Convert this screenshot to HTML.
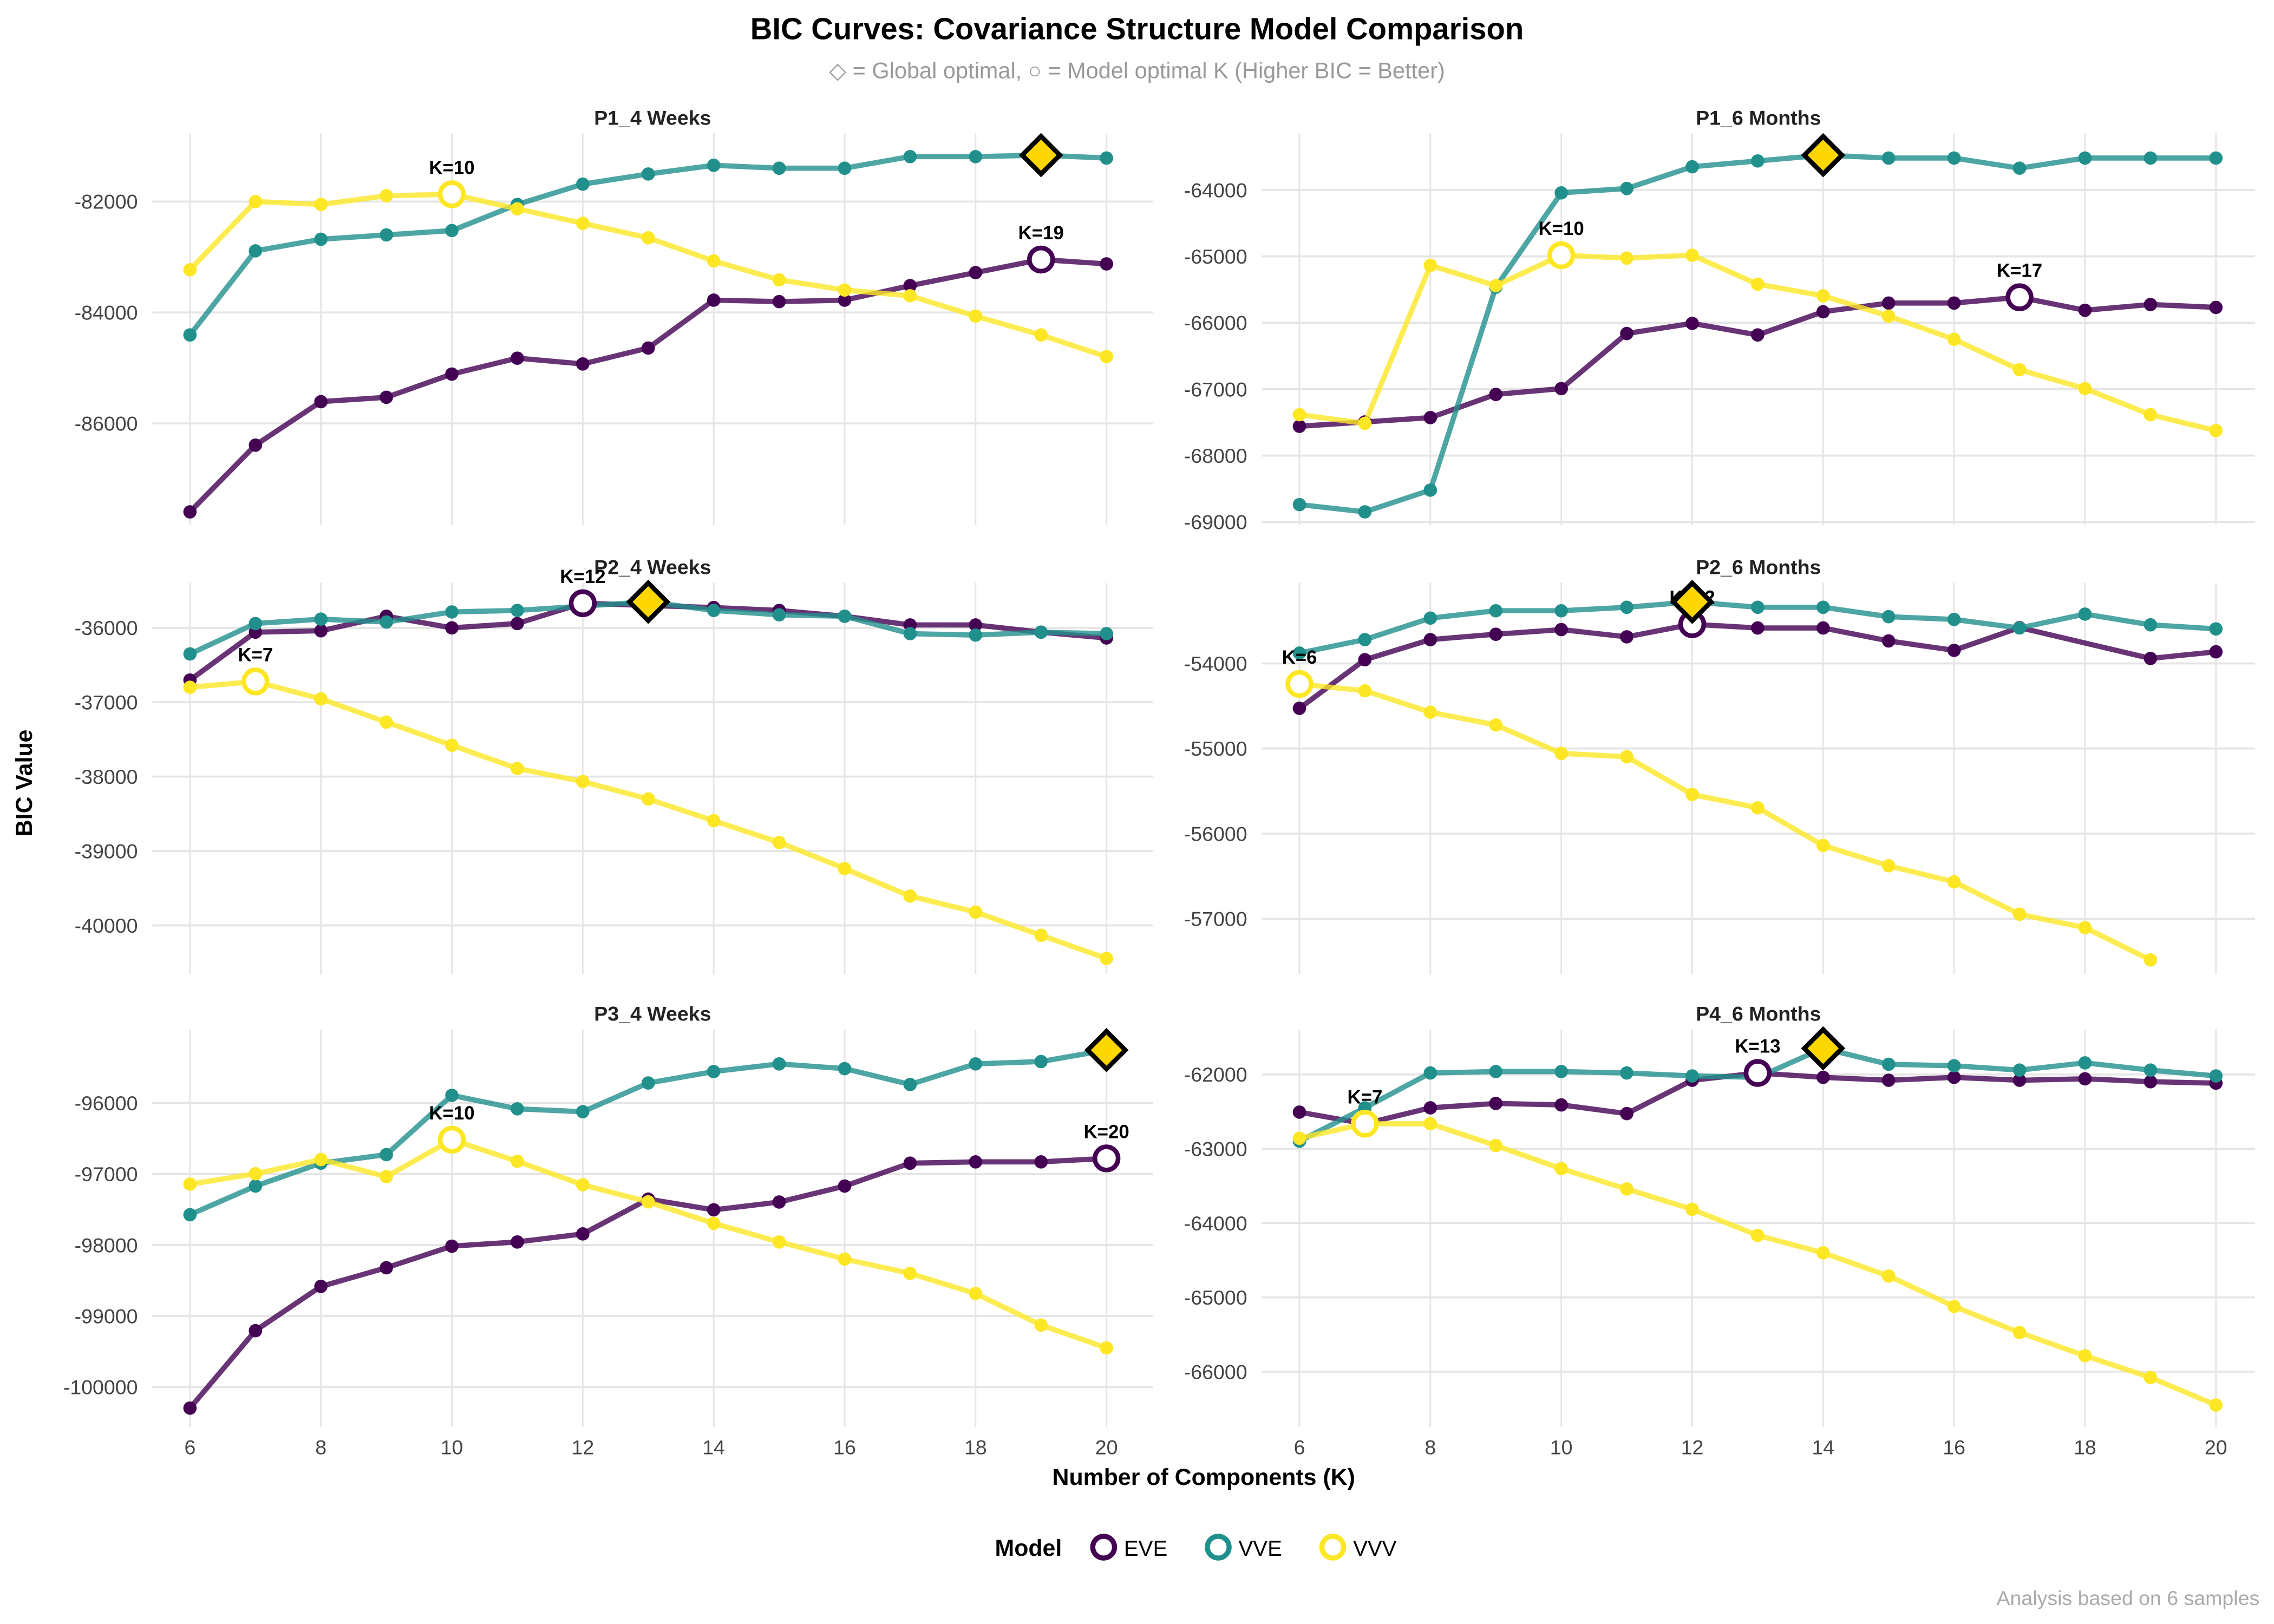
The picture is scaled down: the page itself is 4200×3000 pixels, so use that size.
<!DOCTYPE html>
<html><head><meta charset="utf-8"><title>BIC Curves</title>
<style>
html,body{margin:0;padding:0;background:#fff;}
svg{display:block;font-family:"Liberation Sans",Arial,sans-serif;}
</style></head>
<body>
<svg id="chart" width="4200" height="3000" viewBox="0 0 1568 1120" xmlns="http://www.w3.org/2000/svg">
<rect width="1568" height="1120" fill="#fff"/>
<text x="784" y="27" text-anchor="middle" font-size="21" font-weight="bold" fill="#000">BIC Curves: Covariance Structure Model Comparison</text>
<text x="784" y="54" text-anchor="middle" font-size="15.5" fill="#999">◇ = Global optimal, ○ = Model optimal K (Higher BIC = Better)</text>
<text transform="translate(22,540) rotate(-90)" text-anchor="middle" font-size="16" font-weight="bold" fill="#000">BIC Value</text>
<text x="830" y="1024" text-anchor="middle" font-size="16" font-weight="bold" fill="#000">Number of Components (K)</text>
<g>
<text x="686" y="1073" font-size="16" font-weight="bold" fill="#000">Model</text>
<circle cx="761" cy="1067" r="7.5" fill="#fff" stroke="#440154" stroke-width="3.5"/>
<text x="775" y="1073" font-size="15" fill="#000">EVE</text>
<circle cx="840" cy="1067" r="7.5" fill="#fff" stroke="#21908C" stroke-width="3.5"/>
<text x="854" y="1073" font-size="15" fill="#000">VVE</text>
<circle cx="919" cy="1067" r="7.5" fill="#fff" stroke="#FDE725" stroke-width="3.5"/>
<text x="933" y="1073" font-size="15" fill="#000">VVV</text>
</g>
<text x="1558" y="1107" text-anchor="end" font-size="14" fill="#aaa">Analysis based on 6 samples</text>
<g id="panels"></g>
</svg>
<script>
const ks = [6,7,8,9,10,11,12,13,14,15,16,17,18,19,20];
const xTicks = [6,8,10,12,14,16,18,20];

const p1w_EVE = [-87595,-86392,-85608,-85529,-85111,-84824,-84928,-84641,-83778,-83804,-83778,-83516,-83281,-83046,-83124];
const p1w_VVE = [-84405,-82889,-82680,-82601,-82523,-82052,-81686,-81503,-81346,-81399,-81399,-81190,-81190,-81163,-81216];
const p1w_VVV = [-83229,-82000,-82052,-81895,-81869,-82131,-82392,-82654,-83072,-83412,-83595,-83699,-84065,-84405,-84797];
const p1w_ticks = [-86000,-84000,-82000];

const p1m_EVE = [-67559,-67493,-67428,-67079,-66991,-66162,-66009,-66183,-65834,-65703,-65703,-65616,-65812,-65725,-65769];
const p1m_VVE = [-68738,-68847,-68520,-65463,-64044,-63978,-63651,-63563,-63476,-63520,-63520,-63672,-63520,-63520,-63520];
const p1m_VVV = [-67384,-67515,-65135,-65441,-64983,-65026,-64983,-65419,-65594,-65900,-66249,-66707,-66991,-67384,-67624];
const p1m_ticks = [-69000,-68000,-67000,-66000,-65000,-64000];

const p2w_EVE = [-36702,-36058,-36039,-35844,-36000,-35942,-35669,-35700,-35727,-35766,-35844,-35961,-35961,-36058,-36136];
const p2w_VVE = [-36351,-35942,-35883,-35922,-35786,-35766,-35708,-35650,-35766,-35825,-35844,-36078,-36097,-36058,-36078];
const p2w_VVV = [-36799,-36721,-36955,-37267,-37579,-37891,-38066,-38300,-38593,-38885,-39236,-39606,-39821,-40133,-40444];
const p2w_ticks = [-40000,-39000,-38000,-37000,-36000];

const p2m_EVE = [-54528,-53957,-53721,-53658,-53603,-53688,-53540,-53584,-53584,-53736,-53847,-53580,null,-53942,-53864];
const p2m_VVE = [-53879,-53721,-53468,-53382,-53382,-53341,-53278,-53341,-53341,-53451,-53484,-53584,-53421,-53547,-53595];
const p2m_VVV = [-54242,-54322,-54574,-54724,-55058,-55097,-55540,-55697,-56140,-56378,-56567,-56947,-57106,-57484,null];
const p2m_ticks = [-57000,-56000,-55000,-54000];

const p3w_EVE = [-100296,-99206,-98582,-98320,-98016,-97957,-97843,-97353,-97504,-97394,-97169,-96847,-96829,-96829,-96780];
const p3w_VVE = [-97573,-97169,-96847,-96727,-95892,-96082,-96122,-95718,-95557,-95449,-95516,-95739,-95449,-95416,-95255];
const p3w_VVV = [-97143,-96996,-96796,-97037,-96516,-96820,-97151,-97392,-97694,-97957,-98198,-98400,-98682,-99127,-99449];
const p3w_ticks = [-100000,-99000,-98000,-97000,-96000];

const p4m_EVE = [-62507,-62663,-62449,-62390,-62410,-62527,-62078,-61980,-62039,-62078,-62039,-62078,-62059,-62098,-62117];
const p4m_VVE = [-62898,-62449,-61980,-61961,-61961,-61980,-62020,-62039,-61649,-61863,-61883,-61941,-61844,-61941,-62020];
const p4m_VVV = [-62859,-62663,-62663,-62956,-63268,-63541,-63815,-64166,-64400,-64712,-65122,-65473,-65785,-66078,-66449];
const p4m_ticks = [-66000,-65000,-64000,-63000,-62000];

const colors = {EVE:'#440154', VVE:'#21908C', VVV:'#FDE725'};

const panels = [
 {name:'P1_4 Weeks', x0:105,x1:795,y0:92,y1:362, kx6:131, v0:-82000,py0:139,v1:-86000,py1:292, s:{EVE:p1w_EVE,VVE:p1w_VVE,VVV:p1w_VVV}, ticks:p1w_ticks, xlabels:false},
 {name:'P1_6 Months', x0:870,x1:1555,y0:92,y1:362, kx6:896, v0:-64000,py0:131,v1:-69000,py1:360, s:{EVE:p1m_EVE,VVE:p1m_VVE,VVV:p1m_VVV}, ticks:p1m_ticks, xlabels:false},
 {name:'P2_4 Weeks', x0:105,x1:795,y0:402,y1:672, kx6:131, v0:-36000,py0:433,v1:-40000,py1:638.2, s:{EVE:p2w_EVE,VVE:p2w_VVE,VVV:p2w_VVV}, ticks:p2w_ticks, xlabels:false},
 {name:'P2_6 Months', x0:870,x1:1555,y0:402,y1:672, kx6:896, v0:-54000,py0:457.5,v1:-57000,py1:633.6, s:{EVE:p2m_EVE,VVE:p2m_VVE,VVV:p2m_VVV}, ticks:p2m_ticks, xlabels:false},
 {name:'P3_4 Weeks', x0:105,x1:795,y0:710,y1:984, kx6:131, v0:-96000,py0:760.7,v1:-100000,py1:956.6, s:{EVE:p3w_EVE,VVE:p3w_VVE,VVV:p3w_VVV}, ticks:p3w_ticks, xlabels:true},
 {name:'P4_6 Months', x0:870,x1:1555,y0:710,y1:984, kx6:896, v0:-62000,py0:741,v1:-66000,py1:946, s:{EVE:p4m_EVE,VVE:p4m_VVE,VVV:p4m_VVV}, ticks:p4m_ticks, xlabels:true}
];
const NS = 'http://www.w3.org/2000/svg';
const root = document.getElementById('panels');
function mk(tag, attrs, parent){
  const e = document.createElementNS(NS, tag);
  for (const k in attrs) e.setAttribute(k, attrs[k]);
  parent.appendChild(e); return e;
}
const kStep = 45.14;
panels.forEach((p, pi) => {
  const g = mk('g', {}, root);
  
  
  const X = k => p.kx6 + (k - 6) * kStep;
  const Y = v => p.py0 + (v - p.v0) * (p.py1 - p.py0) / (p.v1 - p.v0);
  xTicks.forEach(k => {
    const l = mk('line', {x1:X(k), x2:X(k), y1:p.y0, y2:p.y1, stroke:'#e5e5e5', 'stroke-width':1.1}, g);
    
    
    if (p.xlabels) {
      const t = mk('text', {x:X(k), y:1003, 'text-anchor':'middle', 'font-size':14, fill:'#444'}, g);
      
      
      t.textContent = k;
    }
  });
  p.ticks.forEach(v => {
    const y = Y(v);
    const l = mk('line', {x1:p.x0, x2:p.x1, y1:y, y2:y, stroke:'#e5e5e5', 'stroke-width':1.4}, g);
    
    
    const t = mk('text', {x:p.x0 - 10, y:y + 5, 'text-anchor':'end', 'font-size':14, fill:'#444'}, g);
    
    
    t.textContent = String(v);
  });
  const tt = mk('text', {x:(p.x0 + p.x1) / 2, y:p.y0 - 6, 'text-anchor':'middle', 'font-size':14, 'font-weight':'bold', fill:'#222'}, g);
  
  
  tt.textContent = p.name;
  let gb = {v:-Infinity};
  Object.keys(p.s).forEach(m => p.s[m].forEach((v, i) => { if (v !== null && v > gb.v) gb = {v, m, i}; }));
  const overlays = [];
  ['EVE','VVE','VVV'].forEach(m => {
    const vals = p.s[m];
    let d = '', pen = false;
    vals.forEach((v, i) => {
      if (v === null) return;
      d += (pen ? 'L' : 'M') + X(ks[i]).toFixed(1) + ',' + Y(v).toFixed(1);
      pen = true;
    });
    const path = mk('path', {d, fill:'none', stroke:colors[m], 'stroke-width':3.6, 'stroke-opacity':0.8, 'stroke-linejoin':'round'}, g);
    
    
    let best = {v:-Infinity, i:-1};
    vals.forEach((v, i) => {
      if (v === null) return;
      if (v > best.v) best = {v, i};
      const c = mk('circle', {cx:X(ks[i]), cy:Y(v), r:4.6, fill:colors[m]}, g);
      
      
    });
    if (!(gb.m === m && gb.i === best.i)) overlays.push({m, i:best.i, v:best.v});
  });
  overlays.forEach(o => {
    const cx = X(ks[o.i]), cy = Y(o.v);
    const c = mk('circle', {cx, cy, r:8, fill:'#fff', stroke:colors[o.m], 'stroke-width':3.2}, g);
    
    
    const t = mk('text', {x:cx, y:cy - 14, 'text-anchor':'middle', 'font-size':13, 'font-weight':'bold', fill:'#000'}, g);
    
    
    t.textContent = 'K=' + ks[o.i];
  });
  const dx = X(ks[gb.i]), dy = Y(gb.v);
  const dm = mk('polygon', {points:`${dx},${dy-13} ${dx+13},${dy} ${dx},${dy+13} ${dx-13},${dy}`, fill:'#FFD700', stroke:'#000', 'stroke-width':3.2, 'stroke-linejoin':'miter'}, g);
  
  
});
</script>
</body></html>
